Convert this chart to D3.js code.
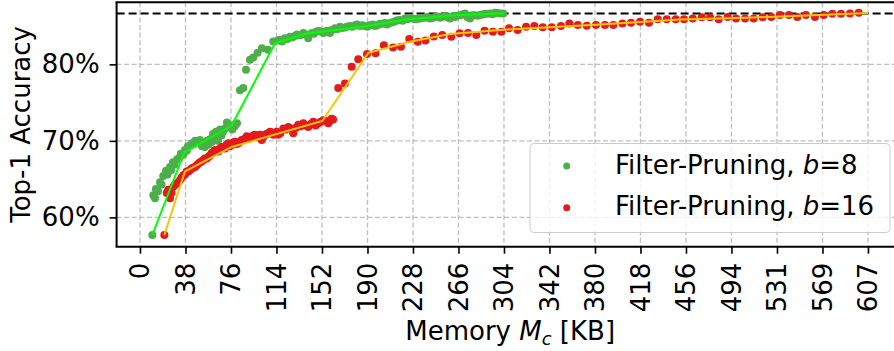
<!DOCTYPE html>
<html>
<head>
<meta charset="utf-8">
<script src="https://cdn.jsdelivr.net/npm/d3@7"></script>
<style>
  html, body { margin: 0; padding: 0; background: #fff; }
  svg { display: block; font-family: "DejaVu Sans", sans-serif; }
</style>
</head>
<body>
<svg id="chart" width="894" height="351"></svg>
<script>
// ---------- data ----------
const xTickValues = [0, 37.94, 75.88, 113.81, 151.75, 189.69, 227.63, 265.56, 303.5,
                     341.44, 379.38, 417.31, 455.25, 493.19, 531.13, 569.06, 607];
const xTickLabels = ["0","38","76","114","152","190","228","266","304",
                     "342","380","418","456","494","531","569","607"];
const yTickValues = [60, 70, 80];
const yTickLabels = ["60%", "70%", "80%"];
const baselineAccuracy = 86.65;

// Filter-Pruning, b=8  (memory KB, top-1 accuracy %)
const b8Memory = [10.3, 11.1, 12.5, 13.3, 15.0, 16.7, 18.0, 19.4, 21.7, 23.0, 25.0, 26.0, 27.5, 29.0, 31.0,
  33.0, 34.0, 36.0, 37.5, 39.0, 40.0, 42.0, 43.4, 45.0, 46.0, 49.0, 50.0, 51.7, 53.4, 54.0, 55.9, 57.0,
  58.4, 60.0, 60.9, 62.0, 63.4, 65.0, 65.5, 66.7, 68.0, 69.2, 71.0, 72.5, 74.0, 75.0, 77.0, 78.4, 79.0, 80.9,
  83.4, 86.1, 88.4, 91.7, 94.5, 98.0, 101.7, 106.7, 111.1, 115.1,
  116.7, 118.5, 120.9, 123.0, 125.1, 127.0, 129.2, 131.0, 133.4, 136.2, 138.0, 140.3, 143.2, 145.0, 147.3,
  149.0, 151.5, 153.0, 155.7, 158.4, 160.0, 162.6, 164.5, 166.8, 168.5, 170.9, 173.0, 175.1, 177.0, 179.3,
  181.0, 183.4, 185.5, 187.6, 189.5, 191.8, 194.0, 195.9, 198.0, 200.1, 202.0, 204.3, 206.0, 208.4, 210.5,
  212.6, 214.5, 216.8, 219.0, 221.0, 223.0, 225.1, 227.0, 229.3, 231.5, 233.5, 235.5, 237.6, 239.5, 241.8,
  244.0, 246.0, 248.0, 250.1, 252.0, 254.3, 256.5, 258.5, 260.5, 262.7, 264.5, 266.8, 269.0, 271.0, 273.0,
  275.2, 277.0, 279.3, 281.5, 283.5, 285.5, 287.7, 289.5, 291.8, 294.0, 296.0, 298.0, 300.2, 302.9];
const b8Accuracy = [57.7, 62.9, 62.5, 63.7, 63.4, 64.6, 64.3, 65.4, 66.1, 65.6, 66.6, 66.2, 67.2, 66.9, 67.6,
  67.8, 68.3, 68.2, 68.8, 68.7, 69.3, 69.4, 69.7, 69.6, 70.0, 69.8, 70.1, 69.3, 69.6, 69.2, 70.0, 69.5,
  70.2, 69.9, 70.9, 70.4, 71.2, 70.0, 70.8, 71.5, 70.7, 71.2, 71.6, 72.4, 72.0, 71.8, 71.5, 72.1, 71.9, 72.3,
  76.6, 76.9, 79.3, 80.6, 80.9, 81.5, 82.1, 81.9, 83.0, 83.1,
  83.2, 83.0, 83.4, 83.3, 83.6, 83.5, 83.7, 83.9, 83.8, 84.1, 83.9, 83.4, 84.1, 84.0, 84.3,
  84.35, 84.3, 84.1, 84.4, 84.1, 84.5, 84.7, 84.6, 84.9, 84.75, 84.8, 84.95, 85.0, 84.9, 85.1,
  85.2, 85.0, 85.1, 85.0, 84.9, 85.1, 85.2, 85.0, 85.1, 85.3, 85.3, 85.4, 85.2, 85.4, 85.5,
  85.6, 85.75, 85.8, 85.7, 86.0, 85.9, 86.1, 86.0, 85.9, 85.95, 86.0, 86.1, 86.1, 86.2, 86.0,
  86.05, 86.2, 86.25, 86.1, 86.2, 86.3, 86.15, 86.0, 86.3, 86.2, 86.35, 86.4, 86.5, 86.65, 86.2,
  86.0, 86.4, 86.4, 86.35, 86.45, 86.5, 86.6, 86.6, 86.65, 86.55, 86.75, 86.7, 86.65, 86.65];

// Filter-Pruning, b=16
const b16Memory = [20.3, 22.3, 23.5, 25.0, 26.3, 27.8, 29.2, 30.6, 32.0, 33.4, 34.7, 36.1, 37.5, 38.9, 40.3,
  41.7, 43.0, 44.4, 45.8, 47.3, 48.6, 50.0, 51.4, 52.8, 54.2, 55.6, 57.0, 58.4, 59.8, 61.1, 62.5, 63.9,
  65.3, 66.7, 68.1, 69.5, 70.9, 72.2, 73.6, 75.0, 76.5, 77.8, 79.2, 80.6, 82.0, 83.4, 84.8, 86.2, 87.6,
  89.0, 90.3, 91.7, 93.1, 94.5, 95.9, 97.3, 98.6, 100.0, 101.5, 102.8, 104.2, 105.6, 107.0, 108.4, 109.8,
  111.2, 112.6, 114.0, 115.3, 117.0, 119.5, 121.5, 123.7, 125.5, 127.8, 130.0, 132.0, 134.0, 136.2, 138.0,
  140.3, 142.5, 144.5, 146.5, 148.7, 150.8, 152.8, 155.0, 157.0, 158.5, 159.8, 161.0,
  165.3, 170.9, 176.5, 182.0, 189.3, 196.4, 203.3, 211.0, 217.6, 224.5, 231.6, 238.0, 245.0, 252.0,
  259.6, 266.5, 273.5, 280.4, 287.3, 294.3, 301.3, 307.7, 314.9, 321.9, 328.8, 335.8, 343.3, 351.0,
  358.0, 365.0, 372.5, 380.2, 387.7, 394.7, 402.2, 409.4, 416.9, 424.4, 431.7, 439.2, 446.7, 453.6,
  460.9, 468.4, 475.3, 482.5, 490.0, 497.0, 504.5, 511.7, 519.2, 526.4, 533.6, 541.1, 548.1, 555.3,
  562.8, 570.1, 577.3, 584.5, 592.0, 599.3];
const b16Accuracy = [57.7, 63.2, 63.6, 62.5, 63.2, 64.0, 64.3, 64.4, 64.6, 64.9, 65.2, 65.5, 65.6, 66.0, 66.0,
  66.2, 66.4, 66.5, 66.6, 66.8, 67.0, 67.2, 67.3, 67.5, 67.7, 67.7, 67.9, 68.1, 68.4, 68.5, 68.8, 68.6,
  68.6, 69.0, 69.2, 69.1, 69.0, 69.5, 69.7, 69.3, 69.45, 69.8, 69.9, 69.6, 69.7, 69.9, 70.1, 70.1, 70.3,
  70.6, 70.5, 70.3, 70.5, 70.7, 70.8, 70.5, 70.6, 70.8, 70.1, 70.5, 70.8, 70.9, 71.0, 71.2, 71.1,
  70.8, 71.0, 71.2, 70.8, 71.0, 71.6, 71.5, 71.8, 71.6, 71.0, 71.7, 72.1, 71.9, 72.3, 72.0,
  71.8, 72.2, 72.5, 72.0, 72.3, 72.5, 72.7, 72.6, 72.3, 72.6, 72.9, 72.8,
  76.9, 77.5, 79.7, 80.65, 81.35, 81.45, 82.5, 82.2, 82.3, 83.3, 82.95, 83.1, 83.65, 83.85,
  83.6, 84.05, 84.1, 83.85, 84.4, 84.25, 84.25, 84.7, 84.5, 84.9, 85.0, 84.85, 84.85, 85.0,
  85.35, 85.15, 85.05, 85.15, 85.15, 85.15, 85.35, 85.45, 85.55, 85.45, 85.9, 85.9, 85.9, 85.9,
  86.0, 86.15, 86.15, 85.9, 86.2, 86.0, 86.0, 86.0, 86.15, 86.2, 86.45, 86.45, 86.2, 86.45,
  86.2, 86.45, 86.6, 86.6, 86.65, 86.75];

// Fitted front lines
const b8LineMemory   = [10.3, 36.9, 76.4, 112.6, 140.3, 158.4, 189.0, 222.3, 261.2, 303.5];
const b8LineAccuracy = [57.7, 68.5, 72.0, 82.75, 84.1, 84.4, 85.0, 85.85, 86.4, 86.65];
const b16LineMemory   = [20.3, 37.5, 76.4, 152.0, 190.4, 225.0, 258.5, 300.2, 383.6, 450.3, 505.9, 561.4, 607.0];
const b16LineAccuracy = [57.7, 66.0, 69.2, 72.6, 81.5, 82.95, 83.95, 84.5, 85.2, 85.85, 86.1, 86.4, 86.7];

const seriesNames = ["Filter-Pruning, ", "Filter-Pruning, "];
const seriesB = ["8", "16"];

// ---------- chart ----------
const svg = d3.select("#chart");
const plot = {left: 116.6, right: 903.7, top: 2.2, bottom: 246.7};
const x = d3.scaleLinear().domain([-19.5, 636.8]).range([plot.left, plot.right]);
const y = d3.scaleLinear().domain([56.17, 88.12]).range([plot.bottom, plot.top]);

const green = "#4daf4a", red = "#e41a1c", lime = "#00ff00", gold = "#ffc400";

// grid
const grid = svg.append("g");
grid.selectAll("line.gx").data(xTickValues).join("line")
  .attr("x1", d => x(d)).attr("x2", d => x(d))
  .attr("y1", plot.top).attr("y2", plot.bottom)
  .attr("stroke", "#b0b0b0").attr("stroke-width", 1.3).attr("stroke-dasharray", "5,2.6").attr("opacity", 0.8);
grid.selectAll("line.gy").data(yTickValues).join("line")
  .attr("x1", plot.left).attr("x2", plot.right)
  .attr("y1", d => y(d)).attr("y2", d => y(d))
  .attr("stroke", "#b0b0b0").attr("stroke-width", 1.3).attr("stroke-dasharray", "5,2.6").attr("opacity", 0.8);

// baseline
svg.append("line")
  .attr("x1", plot.left).attr("x2", plot.right)
  .attr("y1", y(baselineAccuracy)).attr("y2", y(baselineAccuracy))
  .attr("stroke", "#000").attr("stroke-width", 2).attr("stroke-dasharray", "8,4");

// scatter
const b8Pts = b8Memory.map((m, i) => [m, b8Accuracy[i]]);
const b16Pts = b16Memory.map((m, i) => [m, b16Accuracy[i]]);
svg.append("g").selectAll("circle").data(b8Pts).join("circle")
  .attr("cx", d => x(d[0])).attr("cy", d => y(d[1])).attr("r", 4).attr("fill", green);
svg.append("g").selectAll("circle").data(b16Pts).join("circle")
  .attr("cx", d => x(d[0])).attr("cy", d => y(d[1])).attr("r", 4).attr("fill", red);

// lines
const line = d3.line().x(d => x(d[0])).y(d => y(d[1]));
svg.append("path").datum(b8LineMemory.map((m, i) => [m, b8LineAccuracy[i]]))
  .attr("d", line).attr("fill", "none").attr("stroke", lime).attr("stroke-width", 2);
svg.append("path").datum(b16LineMemory.map((m, i) => [m, b16LineAccuracy[i]]))
  .attr("d", line).attr("fill", "none").attr("stroke", gold).attr("stroke-width", 2);

// spines
svg.append("line").attr("x1", plot.left).attr("x2", plot.left).attr("y1", plot.top).attr("y2", plot.bottom)
  .attr("stroke", "#000").attr("stroke-width", 2);
svg.append("line").attr("x1", plot.left - 1).attr("x2", plot.right).attr("y1", plot.top).attr("y2", plot.top)
  .attr("stroke", "#000").attr("stroke-width", 2);
svg.append("line").attr("x1", plot.left - 1).attr("x2", plot.right).attr("y1", plot.bottom).attr("y2", plot.bottom)
  .attr("stroke", "#000").attr("stroke-width", 2);

// x axis
const xAxis = d3.axisBottom(x).tickValues(xTickValues)
  .tickFormat((d, i) => xTickLabels[i]).tickSize(7).tickPadding(0);
const gx = svg.append("g").attr("transform", `translate(0,${plot.bottom})`).call(xAxis);
gx.select(".domain").remove();
gx.selectAll(".tick line").attr("stroke", "#000").attr("stroke-width", 1.6);
gx.selectAll(".tick text")
  .attr("font-size", 26).attr("font-family", "DejaVu Sans").attr("fill", "#000")
  .attr("text-anchor", "end").attr("dy", null).attr("y", null)
  .attr("dominant-baseline", "central")
  .attr("transform", "translate(0,16) rotate(-90)");

// y axis
const yAxis = d3.axisLeft(y).tickValues(yTickValues)
  .tickFormat((d, i) => yTickLabels[i]).tickSize(7).tickPadding(10);
const gy = svg.append("g").attr("transform", `translate(${plot.left},0)`).call(yAxis);
gy.select(".domain").remove();
gy.selectAll(".tick line").attr("stroke", "#000").attr("stroke-width", 1.6);
gy.selectAll(".tick text").attr("font-size", 26).attr("font-family", "DejaVu Sans").attr("fill", "#000");

// axis labels
const xl = svg.append("text").attr("x", (plot.left + plot.right) / 2).attr("y", 340)
  .attr("text-anchor", "middle").attr("font-size", 26).attr("fill", "#000");
xl.append("tspan").text("Memory ");
xl.append("tspan").attr("font-style", "italic").text("M");
xl.append("tspan").attr("font-style", "italic").attr("font-size", 18).attr("dy", 5).text("c");
xl.append("tspan").attr("dy", -5).text(" [KB]");

svg.append("text").attr("transform", `translate(30,${(plot.top + plot.bottom) / 2}) rotate(-90)`)
  .attr("text-anchor", "middle").attr("font-size", 26).attr("fill", "#000").text("Top-1 Accuracy");

// legend
const lg = svg.append("g");
lg.append("rect").attr("x", 530).attr("y", 143.5).attr("width", 360).attr("height", 89)
  .attr("rx", 4).attr("fill", "#fff").attr("fill-opacity", 0.8).attr("stroke", "#cccccc").attr("stroke-width", 1);
const legendColors = [green, red];
const legendY = [166, 207.7];
seriesNames.forEach((name, i) => {
  lg.append("circle").attr("cx", 566.7).attr("cy", legendY[i]).attr("r", 3.5).attr("fill", legendColors[i]);
  const t = lg.append("text").attr("x", 615).attr("y", legendY[i] + 7.5).attr("font-size", 26).attr("fill", "#000");
  t.append("tspan").text(name);
  t.append("tspan").attr("font-style", "italic").text("b");
  t.append("tspan").text("=" + seriesB[i]);
});
</script>
</body>
</html>
